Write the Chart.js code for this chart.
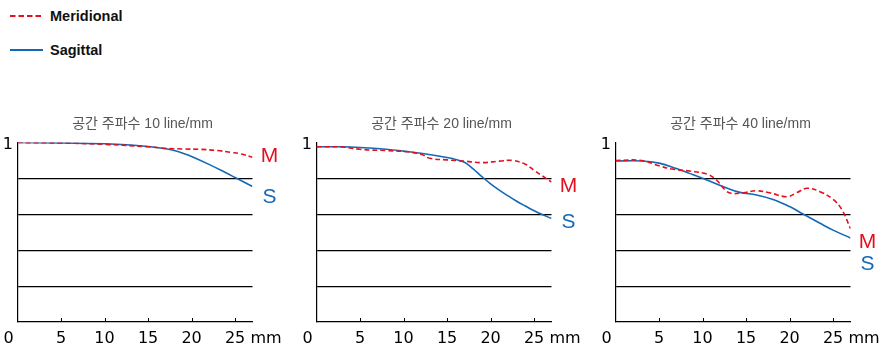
<!DOCTYPE html>
<html lang="ko">
<head>
<meta charset="UTF-8">
<title>MTF</title>
<script src="https://cdn.jsdelivr.net/npm/chart.js@4"></script>
<style>
  html, body { margin: 0; padding: 0; background: #fff; }
  body { width: 886px; height: 362px; position: relative; overflow: hidden;
         font-family: "Liberation Sans", Arial, sans-serif; }
  .legend-item { position: absolute; left: 10px; height: 20px; display: flex; align-items: center;
                 white-space: nowrap; font-weight: bold; font-size: 14.5px; color: #111; }
  .legend-item svg { margin-right: 7px; }
  .box { position: absolute; top: 0; width: 286px; height: 362px; }
</style>
</head>
<body>
  <div class="legend-item" style="top:6px">
    <svg width="33" height="4"><line x1="0" y1="2" x2="33" y2="2" stroke="#e3101f" stroke-width="2" stroke-dasharray="5.5,3"/></svg>
    <span>Meridional</span>
  </div>
  <div class="legend-item" style="top:40px">
    <svg width="33" height="4"><line x1="0" y1="2" x2="33" y2="2" stroke="#1469b6" stroke-width="2"/></svg>
    <span>Sagittal</span>
  </div>

  <div class="box" style="left:0px"><canvas id="c10" width="286" height="362"></canvas></div>
  <div class="box" style="left:299px"><canvas id="c20" width="286" height="362"></canvas></div>
  <div class="box" style="left:598px"><canvas id="c40" width="286" height="362"></canvas></div>

<script>
// 이미지 높이(mm) 와 MTF 값
const titles = ['공간 주파수 10 line/mm', '공간 주파수 20 line/mm', '공간 주파수 40 line/mm'];

const m10x = [0, 5, 10, 15, 17, 19, 21, 23, 24.5, 25.6, 27];
const m10y = [1.0, 0.997, 0.99, 0.976, 0.968, 0.964, 0.962, 0.955, 0.945, 0.937, 0.918];
const s10x = [0, 5, 10, 13, 15, 17, 18, 19, 20, 22, 24, 25, 26, 27];
const s10y = [1.0, 0.998, 0.993, 0.986, 0.978, 0.965, 0.955, 0.94, 0.922, 0.878, 0.83, 0.805, 0.78, 0.755];

const m20x = [0, 3, 5, 8, 10, 12, 13, 15, 17, 19, 21, 22.5, 24, 25, 26, 27];
const m20y = [0.976, 0.975, 0.962, 0.955, 0.95, 0.935, 0.912, 0.903, 0.896, 0.888, 0.896, 0.9, 0.879, 0.845, 0.812, 0.78];
const s20x = [0, 3, 5, 8, 10, 12, 15, 16, 17, 18, 19, 20, 21, 22, 23, 24, 25, 26, 27];
const s20y = [0.976, 0.976, 0.972, 0.962, 0.952, 0.94, 0.916, 0.905, 0.89, 0.853, 0.81, 0.77, 0.735, 0.703, 0.673, 0.646, 0.62, 0.597, 0.577];

const m40x = [0, 3, 5, 6.5, 8.5, 10.5, 11.6, 12.6, 13.3, 14.7, 16.2, 17.7, 19.7, 20.8, 22, 23.5, 25, 26, 27];
const m40y = [0.9, 0.9, 0.87, 0.852, 0.841, 0.824, 0.791, 0.735, 0.717, 0.72, 0.731, 0.72, 0.698, 0.72, 0.745, 0.726, 0.683, 0.627, 0.52];
const s40x = [0, 3, 5, 7, 8.5, 10.5, 12.4, 14.3, 16.2, 18.1, 20, 21.6, 23.5, 25, 27];
const s40y = [0.897, 0.897, 0.885, 0.855, 0.828, 0.791, 0.754, 0.722, 0.708, 0.683, 0.643, 0.6, 0.55, 0.512, 0.468];

const xTicks = [5, 10, 15, 20, 25];

const RED = '#e3101f';
const BLUE = '#1469b6';
const FONT = '"Liberation Sans", Arial, sans-serif';
const TICK_FONT = '"DejaVu Sans", sans-serif';

// 제목, 0, mm, 안쪽 눈금, M/S 표시
const decor = {
  id: 'decor',
  afterDraw(chart, args, opts) {
    const { ctx, chartArea: a, scales: { x, y } } = chart;
    ctx.save();
    ctx.strokeStyle = '#000';
    ctx.lineWidth = 1;
    xTicks.forEach(v => {
      const px = Math.round(x.getPixelForValue(v)) + 0.5;
      ctx.beginPath();
      ctx.moveTo(px, a.bottom);
      ctx.lineTo(px, a.bottom - 4);
      ctx.stroke();
    });

    ctx.textAlign = 'center';
    ctx.textBaseline = 'middle';
    ctx.fillStyle = '#555';
    ctx.font = '14px "Liberation Sans", "Noto Sans CJK KR", sans-serif';
    ctx.fillText(opts.title, (a.left + a.right) / 2 + 7.5, a.top - 18);

    ctx.fillStyle = '#000';
    ctx.font = '16px ' + TICK_FONT;
    ctx.fillText('0', a.left - 9, a.bottom + 16.6);
    ctx.fillText('mm', a.right + 13.5, a.bottom + 16.6);

    ctx.font = '21px ' + FONT;
    ctx.fillStyle = RED;
    ctx.fillText('M', a.right + 17, y.getPixelForValue(opts.mAt));
    ctx.fillStyle = BLUE;
    ctx.fillText('S', a.right + 17, y.getPixelForValue(opts.sAt));
    ctx.restore();
  }
};

function pts(xs, ys) {
  return xs.map((v, i) => ({ x: v, y: ys[i] }));
}

function mtfChart(id, title, mx, my, sx, sy, mAt, sAt) {
  return new Chart(document.getElementById(id), {
    type: 'line',
    data: {
      datasets: [
        { label: 'Meridional', data: pts(mx, my), borderColor: RED, borderWidth: 1.6,
          borderDash: [5, 3], pointRadius: 0, fill: false, tension: 0.4 },
        { label: 'Sagittal', data: pts(sx, sy), borderColor: BLUE, borderWidth: 1.6,
          pointRadius: 0, fill: false, tension: 0.4 }
      ]
    },
    options: {
      responsive: false,
      animation: false,
      devicePixelRatio: 1,
      layout: { padding: { top: 142.5, right: 33.5, left: 0, bottom: 0 } },
      plugins: {
        legend: { display: false },
        tooltip: { enabled: false },
        decor: { title: title, mAt: mAt, sAt: sAt }
      },
      scales: {
        x: {
          type: 'linear', min: 0, max: 27,
          afterFit(s) { s.height = 40; },
          ticks: {
            stepSize: 5, includeBounds: false, padding: 7, color: '#000',
            maxRotation: 0, autoSkip: false,
            font: { family: TICK_FONT, size: 16 },
            callback: v => (v === 0 ? '' : v)
          },
          grid: { display: false, drawTicks: false },
          border: { color: '#000', width: 1.2 }
        },
        y: {
          type: 'linear', min: 0, max: 1,
          afterFit(s) { s.width = 17.5; },
          ticks: {
            stepSize: 0.2, padding: 4.5, labelOffset: 2.5, color: '#000',
            font: { family: TICK_FONT, size: 16 },
            callback: v => (Math.abs(v - 1) < 1e-6 ? '1' : '')
          },
          grid: {
            drawTicks: false, lineWidth: 1.2,
            color: c => (c.tick && c.tick.value > 0.01 && c.tick.value < 0.99) ? '#000' : 'rgba(0,0,0,0)'
          },
          border: { color: '#000', width: 1.2 }
        }
      }
    },
    plugins: [decor]
  });
}

mtfChart('c10', titles[0], m10x, m10y, s10x, s10y, 0.921, 0.695);
mtfChart('c20', titles[1], m20x, m20y, s20x, s20y, 0.759, 0.554);
mtfChart('c40', titles[2], m40x, m40y, s40x, s40y, 0.443, 0.323);
</script>
</body>
</html>
